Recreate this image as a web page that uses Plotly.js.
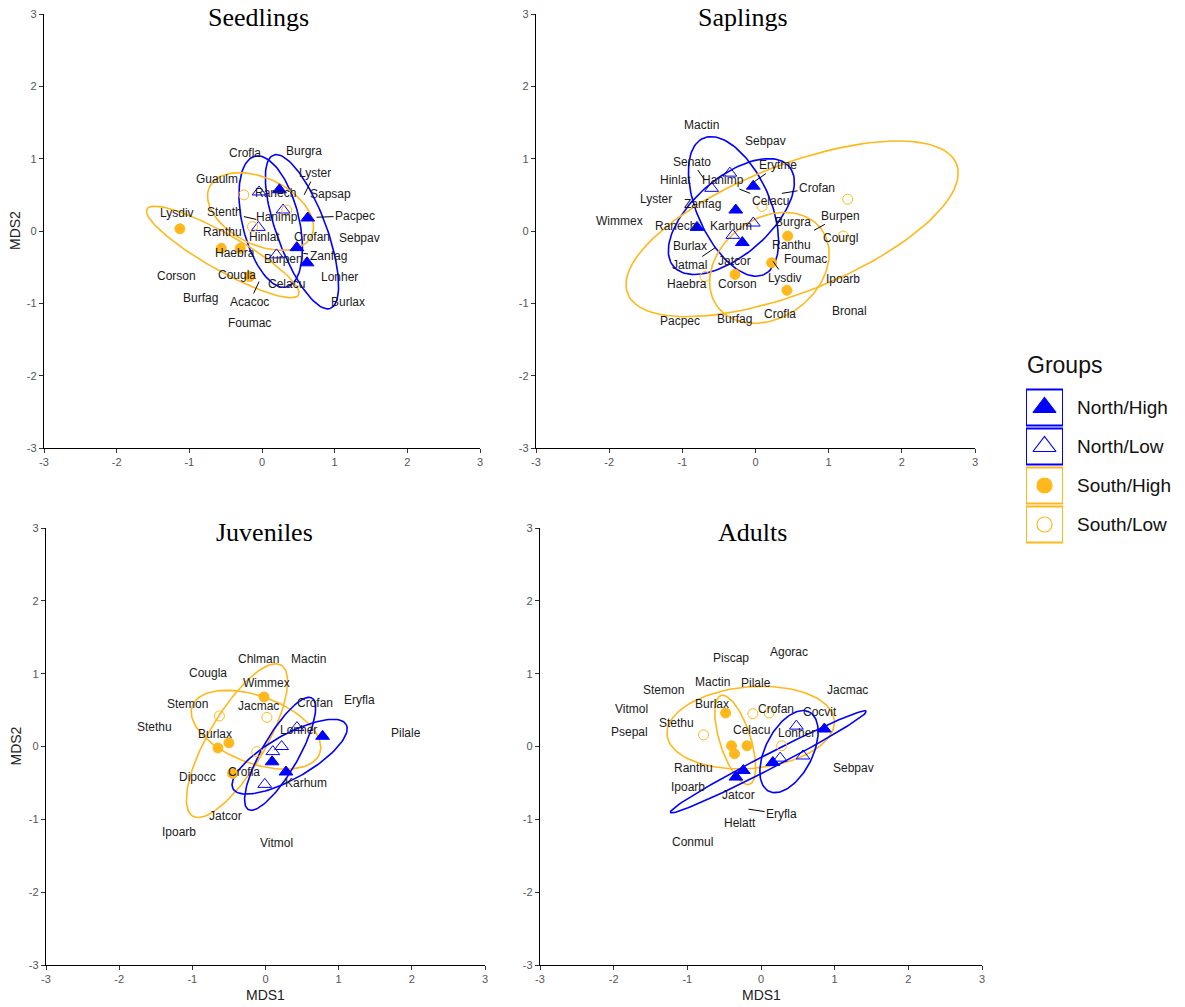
<!DOCTYPE html>
<html><head><meta charset="utf-8">
<script src="https://cdn.plot.ly/plotly-3.0.1.min.js"></script>
<style>html,body{margin:0;padding:0;background:#fff;} #chart{width:1185px;height:1007px;}</style>
</head><body><div id="chart"></div>
<script>
const panelTitles = ['Seedlings', 'Saplings', 'Juveniles', 'Adults'];
const groupNames = ['North/High', 'North/Low', 'South/High', 'South/Low'];
const tickValues = [-3, -2, -1, 0, 1, 2, 3];
const tickLabels = ['-3', '-2', '-1', '0', '1', '2', '3'];
const axisLabelX = 'MDS1';
const axisLabelY = 'MDS2';
const legendTitle = 'Groups';

// ---------- Seedlings ----------
const seedlingsNorthHigh = [[0.24, 0.57], [0.63, 0.18], [0.48, -0.23], [0.62, -0.44]];
const seedlingsNorthLow = [[-0.04, 0.54], [0.29, 0.29], [-0.05, 0.05], [0.20, -0.33]];
const seedlingsSouthHigh = [[-1.13, 0.03], [-0.56, -0.24], [-0.30, -0.24], [-0.17, -0.63]];
const seedlingsSouthLow = [[-0.25, 0.50], [-0.13, 0.06], [0.34, 0.29]];
// [group, centre x, centre y, semi-major, semi-minor, angle deg]
const seedlingsEllipses = [
  ['North/Low', 0.12, 0.13, 0.93, 0.39, -76.5],
  ['North/High', 0.55, -0.01, 1.13, 0.34, -69.8],
  ['South/Low', -0.02, 0.27, 0.78, 0.46, -26],
  ['South/High', -0.54, -0.29, 1.20, 0.25, -29.7]
];
const seedlingsSpecies = ['Crofla','Burgra','Guaulm','Lyster','Ranech','Sapsap','Stenth','Hanimp','Pacpec','Lysdiv','Ranthu','Hinlat','Crofan','Sebpav','Haebra','Zanfag','Burpen','Corson','Cougla','Lonher','Celacu','Burfag','Acacoc','Burlax','Foumac'];
const seedlingsSpeciesX = [-0.23, 0.58, -0.62, 0.73, 0.18, 0.94, -0.51, 0.21, 1.28, -1.17, -0.55, 0.04, 0.69, 1.34, -0.37, 0.91, 0.29, -1.17, -0.34, 1.07, 0.34, -0.85, -0.17, 1.18, -0.17];
const seedlingsSpeciesY = [1.08, 1.11, 0.72, 0.80, 0.53, 0.51, 0.26, 0.19, 0.21, 0.25, -0.01, -0.08, -0.08, -0.10, -0.30, -0.35, -0.39, -0.62, -0.61, -0.64, -0.73, -0.93, -0.98, -0.98, -1.27];
const seedlingsLeaders = {Lyster: [0.58, 0.50], Stenth: [-0.08, 0.16], Pacpec: [0.75, 0.19], Sebpav: [1.13, -0.21], Zanfag: [0.57, -0.31], Acacoc: [-0.04, -0.70]};

// ---------- Saplings ----------
const saplingsNorthHigh = [[-0.03, 0.62], [-0.27, 0.29], [-0.80, 0.05], [-0.18, -0.16]];
const saplingsNorthLow = [[-0.35, 0.80], [-0.60, 0.59], [-0.03, 0.11], [-0.31, -0.06]];
const saplingsSouthHigh = [[0.44, -0.07], [0.22, -0.44], [-0.28, -0.60], [0.43, -0.82]];
const saplingsSouthLow = [[1.26, 0.44], [1.20, -0.07], [0.09, 0.34], [-0.69, -0.63]];
const saplingsEllipses = [
  ['North/Low', -0.30, 0.34, 1.03, 0.50, -66.4],
  ['North/High', -0.33, 0.20, 1.05, 0.53, 41.5],
  ['South/High', 0.19, -0.51, 0.89, 0.68, 38],
  ['South/Low', 0.50, 0.03, 2.42, 0.88, 21.8]
];
const saplingsSpecies = ['Mactin','Sebpav','Senato','Erytme','Hinlat','Hanimp','Crofan','Lyster','Celacu','Zanfag','Wimmex','Burpen','Ranech','Karhum','Burgra','Courgl','Burlax','Ranthu','Foumac','Jatmal','Jatcor','Lysdiv','Ipoarb','Haebra','Corson','Bronal','Pacpec','Burfag','Crofla'];
const saplingsSpeciesX = [-0.74, 0.13, -0.87, 0.31, -1.10, -0.44, 0.84, -1.36, 0.20, -0.72, -1.86, 1.16, -1.10, -0.33, 0.51, 1.16, -0.90, 0.49, 0.69, -0.90, -0.29, 0.40, 1.20, -0.93, -0.25, 1.29, -1.03, -0.29, 0.33];
const saplingsSpeciesY = [1.47, 1.24, 0.96, 0.91, 0.71, 0.70, 0.60, 0.44, 0.41, 0.37, 0.14, 0.21, 0.07, 0.07, 0.12, -0.09, -0.21, -0.19, -0.39, -0.47, -0.41, -0.65, -0.67, -0.73, -0.73, -1.10, -1.25, -1.21, -1.15];
const saplingsLeaders = {Senato: [-0.69, 0.70], Erytme: [-0.02, 0.68], Celacu: [-0.22, 0.58], Crofan: [0.36, 0.52], Burpen: [0.80, 0.01], Jatmal: [-0.55, -0.23], Lysdiv: [0.24, -0.42]};

// ---------- Juveniles ----------
const juvenilesNorthHigh = [[0.78, 0.14], [0.09, -0.21], [0.28, -0.35]];
const juvenilesNorthLow = [[0.43, 0.26], [0.22, 0.00], [0.10, -0.07], [-0.01, -0.52]];
const juvenilesSouthHigh = [[-0.02, 0.68], [-0.50, 0.05], [-0.65, -0.02], [-0.45, -0.37]];
const juvenilesSouthLow = [[-0.63, 0.42], [0.02, 0.40], [-0.12, -0.07]];
const juvenilesEllipses = [
  ['South/Low', -0.13, 0.23, 0.93, 0.46, -20.7],
  ['South/High', -0.39, 0.08, 1.20, 0.39, 59.8],
  ['North/High', 0.33, -0.14, 0.89, 0.30, 29.8],
  ['North/Low', 0.20, -0.10, 0.88, 0.25, 60.4]
];
const juvenilesSpecies = ['Chlman','Mactin','Cougla','Wimmex','Eryfla','Stemon','Jacmac','Crofan','Stethu','Pilale','Lonher','Burlax','Dipocc','Crofla','Karhum','Jatcor','Ipoarb','Vitmol'];
const juvenilesSpeciesX = [-0.09, 0.59, -0.78, 0.02, 1.29, -1.07, -0.10, 0.68, -1.52, 1.92, 0.45, -0.69, -0.93, -0.30, 0.55, -0.54, -1.18, 0.15];
const juvenilesSpeciesY = [1.20, 1.20, 1.01, 0.87, 0.64, 0.59, 0.56, 0.60, 0.27, 0.19, 0.23, 0.17, -0.42, -0.35, -0.50, -0.95, -1.18, -1.32];
const juvenilesLeaders = {};

// ---------- Adults ----------
const adultsNorthHigh = [[0.86, 0.24], [0.16, -0.22], [-0.24, -0.33], [-0.34, -0.42]];
const adultsNorthLow = [[0.48, 0.28], [0.57, -0.13], [0.26, -0.16]];
const adultsSouthHigh = [[-0.48, 0.46], [-0.40, 0.01], [-0.19, 0.01], [-0.36, -0.10]];
const adultsSouthLow = [[-0.11, 0.45], [0.11, 0.46], [-0.78, 0.16], [0.28, 0.01]];
const adultsEllipses = [
  ['South/Low', -0.14, 0.26, 1.14, 0.56, 5],
  ['South/High', -0.35, 0.09, 0.64, 0.21, -72.5],
  ['North/High', 0.10, -0.21, 1.50, 0.10, 27.6],
  ['North/Low', 0.38, -0.07, 0.61, 0.32, 63.4]
];
const adultsSpecies = ['Piscap','Agorac','Stemon','Mactin','Pilale','Jacmac','Vitmol','Burlax','Crofan','Cocvit','Stethu','Psepal','Celacu','Lonher','Ranthu','Sebpav','Ipoarb','Jatcor','Eryfla','Helatt','Conmul'];
const adultsSpeciesX = [-0.41, 0.38, -1.33, -0.66, -0.07, 1.18, -1.76, -0.67, 0.21, 0.80, -1.15, -1.78, -0.13, 0.48, -0.92, 1.26, -0.99, -0.30, 0.28, -0.29, -0.93];
const adultsSpeciesY = [1.21, 1.30, 0.78, 0.88, 0.87, 0.78, 0.51, 0.59, 0.52, 0.48, 0.32, 0.20, 0.22, 0.19, -0.30, -0.30, -0.56, -0.67, -0.93, -1.05, -1.31];
const adultsLeaders = {Eryfla: [-0.17, -0.86]};

// ---------- styling ----------
const BLUE = '#0000FF';
const ORANGE = '#FFB81C';
const groupStyle = {
  'North/High': {symbol: 'triangle-up', color: BLUE, size: 12, legSize: 20},
  'North/Low': {symbol: 'triangle-up-open', color: BLUE, size: 12, legSize: 20},
  'South/High': {symbol: 'circle', color: ORANGE, size: 10, legSize: 15},
  'South/Low': {symbol: 'circle-open', color: ORANGE, size: 10, legSize: 15}
};
const ellipseColor = {'North/High': BLUE, 'North/Low': BLUE, 'South/High': ORANGE, 'South/Low': ORANGE};

const W = 1185, H = 1007;
const panels = [
  {name: panelTitles[0], groups: [seedlingsNorthHigh, seedlingsNorthLow, seedlingsSouthHigh, seedlingsSouthLow], ell: seedlingsEllipses, sp: seedlingsSpecies, sx: seedlingsSpeciesX, sy: seedlingsSpeciesY, lead: seedlingsLeaders, xpx: [44, 480], ypx: [14, 448], titlePx: [258, 18], showX: false, showY: true},
  {name: panelTitles[1], groups: [saplingsNorthHigh, saplingsNorthLow, saplingsSouthHigh, saplingsSouthLow], ell: saplingsEllipses, sp: saplingsSpecies, sx: saplingsSpeciesX, sy: saplingsSpeciesY, lead: saplingsLeaders, xpx: [536, 975], ypx: [14, 448], titlePx: [743, 18], showX: false, showY: false},
  {name: panelTitles[2], groups: [juvenilesNorthHigh, juvenilesNorthLow, juvenilesSouthHigh, juvenilesSouthLow], ell: juvenilesEllipses, sp: juvenilesSpecies, sx: juvenilesSpeciesX, sy: juvenilesSpeciesY, lead: juvenilesLeaders, xpx: [46, 485], ypx: [528, 965], titlePx: [264, 532], showX: true, showY: true},
  {name: panelTitles[3], groups: [adultsNorthHigh, adultsNorthLow, adultsSouthHigh, adultsSouthLow], ell: adultsEllipses, sp: adultsSpecies, sx: adultsSpeciesX, sy: adultsSpeciesY, lead: adultsLeaders, xpx: [540, 982], ypx: [528, 965], titlePx: [752, 532], showX: true, showY: false}
];

const SANS = 'Liberation Sans, Arial, sans-serif';
const SERIF = 'Liberation Serif, Times New Roman, serif';

const traces = [];
const annotations = [];
const shapes = [];
const layout = {
  width: W, height: H, margin: {l: 0, r: 0, t: 0, b: 0},
  paper_bgcolor: '#fff', plot_bgcolor: 'rgba(0,0,0,0)',
  showlegend: false, hovermode: false
};

function ellipsePath(cx, cy, a, b, deg) {
  const th = deg * Math.PI / 180, xs = [], ys = [];
  for (let i = 0; i <= 120; i++) {
    const t = 2 * Math.PI * i / 120;
    xs.push(cx + a * Math.cos(t) * Math.cos(th) - b * Math.sin(t) * Math.sin(th));
    ys.push(cy + a * Math.cos(t) * Math.sin(th) + b * Math.sin(t) * Math.cos(th));
  }
  return [xs, ys];
}

panels.forEach((p, i) => {
  const s = i === 0 ? '' : String(i + 1);
  const xa = 'x' + s, ya = 'y' + s;
  const axCommon = {
    range: [-3, 3], tickmode: 'array', tickvals: tickValues, ticktext: tickLabels,
    ticks: 'outside', ticklen: 4, tickwidth: 1, tickcolor: '#333',
    showline: true, linecolor: '#000', linewidth: 1.2, showgrid: false, zeroline: false,
    tickfont: {family: SANS, size: 11, color: '#555'}, fixedrange: true
  };
  layout['xaxis' + s] = Object.assign({}, axCommon, {domain: [p.xpx[0] / W, p.xpx[1] / W], anchor: ya});
  layout['yaxis' + s] = Object.assign({}, axCommon, {domain: [1 - p.ypx[1] / H, 1 - p.ypx[0] / H], anchor: xa});

  // ellipses
  p.ell.forEach(e => {
    const [xs, ys] = ellipsePath(e[1], e[2], e[3], e[4], e[5]);
    traces.push({type: 'scatter', mode: 'lines', x: xs, y: ys, xaxis: xa, yaxis: ya,
      line: {color: ellipseColor[e[0]], width: 1.6}, hoverinfo: 'skip'});
  });
  // group points
  p.groups.forEach((pts, g) => {
    const st = groupStyle[groupNames[g]];
    traces.push({type: 'scatter', mode: 'markers', name: groupNames[g],
      x: pts.map(d => d[0]), y: pts.map(d => d[1]), xaxis: xa, yaxis: ya,
      marker: {symbol: st.symbol, size: st.size, color: st.color, line: {color: st.color, width: 1}}});
  });
  // species labels
  p.sp.forEach((name, k) => {
    const lead = p.lead[name];
    if (lead) {
      annotations.push({xref: xa, yref: ya, x: lead[0], y: lead[1], axref: xa, ayref: ya,
        ax: p.sx[k], ay: p.sy[k], text: name, showarrow: true, arrowhead: 0, arrowwidth: 1,
        arrowcolor: '#000', standoff: 0, startstandoff: 0, font: {family: SANS, size: 12, color: '#1a1a1a'}});
    } else {
      annotations.push({xref: xa, yref: ya, x: p.sx[k], y: p.sy[k], text: name, showarrow: false,
        font: {family: SANS, size: 12, color: '#1a1a1a'}});
    }
  });
  // panel title
  annotations.push({xref: 'paper', yref: 'paper', x: p.titlePx[0] / W, y: 1 - p.titlePx[1] / H,
    xanchor: 'center', yanchor: 'middle', text: p.name, showarrow: false,
    font: {family: SERIF, size: 26, color: '#000'}});
  if (p.showY) {
    annotations.push({xref: 'paper', yref: 'paper', x: 15 / W, y: 1 - ((p.ypx[0] + p.ypx[1]) / 2) / H,
      xanchor: 'center', yanchor: 'middle', text: axisLabelY, textangle: -90, showarrow: false,
      font: {family: SANS, size: 14, color: '#222'}});
  }
  if (p.showX) {
    annotations.push({xref: 'paper', yref: 'paper', x: ((p.xpx[0] + p.xpx[1]) / 2) / W, y: 1 - 995 / H,
      xanchor: 'center', yanchor: 'middle', text: axisLabelX, showarrow: false,
      font: {family: SANS, size: 14, color: '#222'}});
  }
});

// ---------- legend (built on a hidden axis pair) ----------
layout.xaxis5 = {domain: [1026 / W, 1063 / W], range: [0, 1], visible: false, anchor: 'y5', fixedrange: true};
layout.yaxis5 = {domain: [1 - 544 / H, 1 - 388 / H], range: [4, 0], visible: false, anchor: 'x5', fixedrange: true};
groupNames.forEach((g, i) => {
  const st = groupStyle[g];
  traces.push({type: 'scatter', mode: 'markers', x: [0.5], y: [i + 0.5], xaxis: 'x5', yaxis: 'y5',
    marker: {symbol: st.symbol, size: st.legSize, color: st.color, line: {color: st.color, width: 1.2}}, hoverinfo: 'skip'});
  shapes.push({type: 'rect', xref: 'x5', yref: 'y5', x0: 0, x1: 1, y0: i + 0.04, y1: i + 0.96,
    line: {color: st.color, width: 2}, fillcolor: 'rgba(0,0,0,0)'});
  annotations.push({xref: 'paper', yref: 'y5', x: 1075 / W, y: i + 0.5, xanchor: 'left', yanchor: 'middle',
    text: g, showarrow: false, font: {family: SANS, size: 19, color: '#111'}});
});
annotations.push({xref: 'paper', yref: 'paper', x: 1025 / W, y: 1 - 365 / H, xanchor: 'left', yanchor: 'middle',
  text: legendTitle, showarrow: false, font: {family: SANS, size: 23, color: '#111'}});

layout.annotations = annotations;
layout.shapes = shapes;
Plotly.newPlot('chart', traces, layout, {staticPlot: true, displayModeBar: false});
</script></body></html>
